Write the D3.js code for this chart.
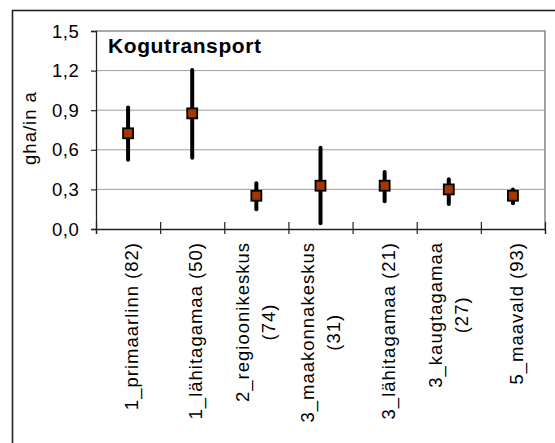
<!DOCTYPE html>
<html>
<head>
<meta charset="utf-8">
<script src="https://cdn.jsdelivr.net/npm/d3@7"></script>
<style>
  body { margin: 0; background: #fff; }
  text { font-family: "Liberation Sans", Arial, sans-serif; fill: #000; }
</style>
</head>
<body>
<div id="chart"></div>
<script>
// data
const categories = [
  ["1_primaarlinn (82)"],
  ["1_lähitagamaa (50)"],
  ["2_regioonikeskus", "(74)"],
  ["3_maakonnakeskus", "(31)"],
  ["3_lähitagamaa (21)"],
  ["3_kaugtagamaa", "(27)"],
  ["5_maavald (93)"]
];
const means = [0.725, 0.876, 0.252, 0.328, 0.328, 0.300, 0.252];
const highs = [0.920, 1.205, 0.346, 0.616, 0.432, 0.376, 0.300];
const lows  = [0.524, 0.540, 0.149, 0.043, 0.210, 0.190, 0.195];
const yTicks = [0, 0.3, 0.6, 0.9, 1.2, 1.5];
const title = "Kogutransport";
const yLabel = "gha/in a";

const W = 555, H = 443;
const plot = { left: 96, right: 545, top: 31, bottom: 229 };
const fs = "18.5px";

const svg = d3.select("#chart").append("svg")
  .attr("width", W).attr("height", H);

// outer frame (cut off at right and bottom like the picture)
svg.append("rect")
  .attr("x", 12.5).attr("y", 10.5)
  .attr("width", 600).attr("height", 500)
  .attr("fill", "none").attr("stroke", "#222").attr("stroke-width", 1.6);

const y = d3.scaleLinear().domain([0, 1.5]).range([plot.bottom, plot.top]);
const xb = d3.scaleBand().domain(d3.range(categories.length))
  .range([plot.left, plot.right]).paddingInner(0).paddingOuter(0);
const xEdge = d3.scaleLinear().domain([0, categories.length]).range([plot.left, plot.right]);

// gridlines
svg.append("g")
  .selectAll("line")
  .data(yTicks.filter(d => d > 0 && d < 1.5))
  .join("line")
  .attr("x1", plot.left).attr("x2", plot.right)
  .attr("y1", d => y(d)).attr("y2", d => y(d))
  .attr("stroke", "#a0a0a0").attr("stroke-width", 1);

// plot area border, top + right
svg.append("path")
  .attr("d", `M${plot.left},${plot.top}H${plot.right}V${plot.bottom}`)
  .attr("fill", "none").attr("stroke", "#8c8c8c").attr("stroke-width", 1.6);

// y axis
const yAxis = svg.append("g")
  .attr("transform", `translate(${plot.left},0)`)
  .call(d3.axisLeft(y).tickValues(yTicks).tickSize(5).tickPadding(0)
    .tickFormat(d => d3.format(".1f")(d).replace(".", ",")));
yAxis.select(".domain").attr("stroke", "#222").attr("stroke-width", 1.3);
yAxis.selectAll(".tick line").attr("stroke", "#222").attr("stroke-width", 1.2);
yAxis.selectAll(".tick text")
  .attr("x", -16.5).attr("dy", "0.33em")
  .style("font-size", fs).style("letter-spacing", "0.6px")
  .attr("font-family", null);

// x axis with ticks crossing at category boundaries
const xAxis = svg.append("g")
  .attr("transform", `translate(0,${plot.bottom})`)
  .call(d3.axisBottom(xEdge).tickValues(d3.range(categories.length + 1))
    .tickSize(5).tickFormat(""));
xAxis.select(".domain").attr("stroke", "#222").attr("stroke-width", 1.3);
xAxis.selectAll(".tick line").attr("y1", -7).attr("y2", 5)
  .attr("stroke", "#222").attr("stroke-width", 1.2);

// category labels, rotated
const labelTop = 242;
const lab = svg.append("g");
categories.forEach((lines, i) => {
  const cx = xb(i) + xb.bandwidth() / 2;
  if (lines.length === 1) {
    lab.append("text")
      .attr("transform", `translate(${cx + 10},${labelTop}) rotate(-90)`)
      .attr("text-anchor", "end")
      .style("font-size", fs).style("letter-spacing", "1px")
      .text(lines[0]);
  } else {
    const t1 = lab.append("text")
      .attr("transform", `translate(${cx - 7},${labelTop}) rotate(-90)`)
      .attr("text-anchor", "end")
      .style("font-size", fs).style("letter-spacing", "1px")
      .text(lines[0]);
    const len = t1.node().getComputedTextLength();
    lab.append("text")
      .attr("transform", `translate(${cx + 19},${labelTop + len / 2}) rotate(-90)`)
      .attr("text-anchor", "middle")
      .style("font-size", fs).style("letter-spacing", "1px")
      .text(lines[1]);
  }
});

// y axis title
svg.append("text")
  .attr("transform", `translate(36,${(plot.top + plot.bottom) / 2 - 2}) rotate(-90)`)
  .attr("text-anchor", "middle")
  .style("font-size", fs).style("letter-spacing", "1px")
  .text(yLabel);

// chart title inside plot
svg.append("text")
  .attr("x", 108).attr("y", 53)
  .style("font-size", "21px").style("font-weight", "bold").style("letter-spacing", "0.6px")
  .text(title);

// error bars
const idx = d3.range(categories.length);
svg.append("g")
  .selectAll("line")
  .data(idx)
  .join("line")
  .attr("x1", i => xb(i) + xb.bandwidth() / 2)
  .attr("x2", i => xb(i) + xb.bandwidth() / 2)
  .attr("y1", i => y(highs[i]))
  .attr("y2", i => y(lows[i]))
  .attr("stroke", "#000").attr("stroke-width", 4).attr("stroke-linecap", "round");

// mean markers
const ms = 10;
svg.append("g")
  .selectAll("rect")
  .data(idx)
  .join("rect")
  .attr("x", i => xb(i) + xb.bandwidth() / 2 - ms / 2)
  .attr("y", i => y(means[i]) - ms / 2)
  .attr("width", ms).attr("height", ms)
  .attr("fill", "#a33800").attr("stroke", "#000").attr("stroke-width", 1.8);
</script>
</body>
</html>
